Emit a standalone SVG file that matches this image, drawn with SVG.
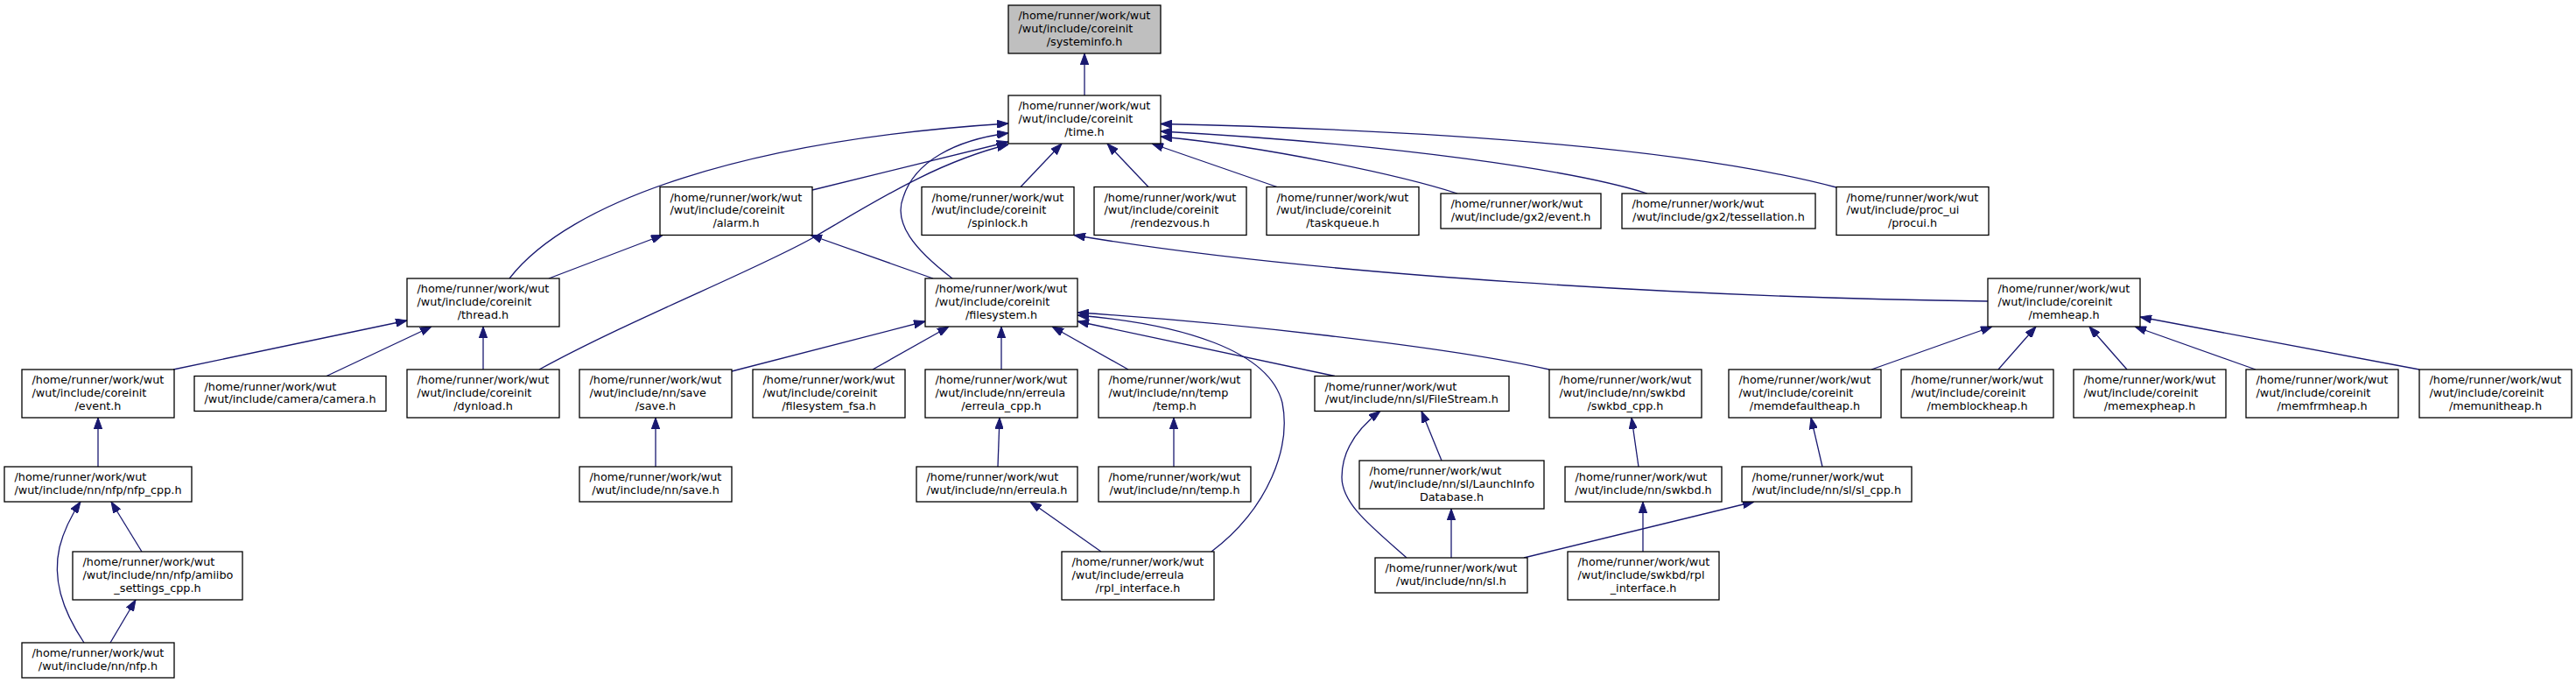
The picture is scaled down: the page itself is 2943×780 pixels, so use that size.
<svg xmlns="http://www.w3.org/2000/svg" width="2943" height="780" viewBox="0 0 2943 780">
<style>
.n rect{fill:#ffffff;stroke:#000000;stroke-width:1.3}
.n.root rect{fill:#bfbfbf}
text{font-family:"DejaVu Sans","Liberation Sans",sans-serif;font-size:12.8px;fill:#000000}
text.c{text-anchor:middle}
.e path{fill:none;stroke:#191970;stroke-width:1.3;marker-end:url(#a)}
</style>
<defs>
<marker id="a" markerUnits="userSpaceOnUse" viewBox="0 0 13 9.4" refX="13" refY="4.7" markerWidth="13" markerHeight="9.4" orient="auto">
<path d="M0,0 L13,4.7 L0,9.4 z" fill="#191970" stroke="#191970" stroke-width="1"/>
</marker>
</defs>
<rect x="0" y="0" width="2943" height="780" fill="#ffffff"/>
<g id="connectors" class="e">
<path d="M1239,109 L1239,61"/>
<path d="M582,318 C650,230 850,160 1152,141"/>
<path d="M928,217 L1152,162"/>
<path d="M616,422 C720,365 860,310 928,272 C1000,230 1070,185 1152,165"/>
<path d="M1088,318 C1045,285 1020,255 1032,225 C1045,185 1090,160 1152,152"/>
<path d="M1166,213.5 L1213,164"/>
<path d="M1312,213.5 L1265,164"/>
<path d="M1459,213.5 L1316,164"/>
<path d="M1665,221 C1600,200 1450,168 1326,156"/>
<path d="M1882,221 C1800,195 1600,165 1326,150"/>
<path d="M2098,214 C1950,175 1700,150 1326,141.5"/>
<path d="M2271,344 C1950,340 1500,315 1227,268.5"/>
<path d="M627,318 L757,268.5"/>
<path d="M1066,318 L926,268.5"/>
<path d="M198,422 L465,366"/>
<path d="M373,429.5 L493,373"/>
<path d="M552,422 L552,373"/>
<path d="M836,424 L1057,367"/>
<path d="M997,422 L1084,373"/>
<path d="M1144,422 L1144,373"/>
<path d="M1289,422 L1202,373"/>
<path d="M1525,429.5 L1231,367"/>
<path d="M1770,422 C1650,395 1400,368 1231,357"/>
<path d="M1384,630 C1450,580 1475,510 1465,460 C1450,400 1350,370 1231,360"/>
<path d="M2138,422 L2276,373"/>
<path d="M2283,422 L2326,373"/>
<path d="M2430,422 L2387,373"/>
<path d="M2577,422 L2439,373"/>
<path d="M2764,422 L2445,362"/>
<path d="M112,533 L112,477"/>
<path d="M96,734 C70,695 60,660 68,625 C73,605 82,588 92,573"/>
<path d="M162,630 L127,573"/>
<path d="M126,734 L155,685"/>
<path d="M749,533 L749,477"/>
<path d="M1140,533 L1142,477"/>
<path d="M1341,533 L1341,477"/>
<path d="M1258,630 L1177,573"/>
<path d="M1607,637 C1565,600 1533,575 1533,545 C1533,515 1550,490 1577,469.5"/>
<path d="M1647,526 L1624,469.5"/>
<path d="M1658,637 L1658,581"/>
<path d="M1741,637 L2004,573"/>
<path d="M2082,533 L2069,477"/>
<path d="M1872,533 L1864,477"/>
<path d="M1877,630 L1877,573"/>
</g>
<g id="n_systeminfo" class="n root"><rect x="1152" y="6" width="174" height="55"/><text x="1163.5" y="22">/home/runner/work/wut</text><text x="1163.5" y="36.8">/wut/include/coreinit</text><text class="c" x="1239" y="51.6">/systeminfo.h</text></g>
<g id="n_time" class="n"><rect x="1152" y="109" width="174" height="55"/><text x="1163.5" y="125">/home/runner/work/wut</text><text x="1163.5" y="139.8">/wut/include/coreinit</text><text class="c" x="1239" y="154.6">/time.h</text></g>
<g id="n_alarm" class="n"><rect x="754" y="213.5" width="174" height="55"/><text x="765.5" y="229.5">/home/runner/work/wut</text><text x="765.5" y="244.3">/wut/include/coreinit</text><text class="c" x="841" y="259.1">/alarm.h</text></g>
<g id="n_spinlock" class="n"><rect x="1053" y="213.5" width="174" height="55"/><text x="1064.5" y="229.5">/home/runner/work/wut</text><text x="1064.5" y="244.3">/wut/include/coreinit</text><text class="c" x="1140" y="259.1">/spinlock.h</text></g>
<g id="n_rendezvous" class="n"><rect x="1250" y="213.5" width="174" height="55"/><text x="1261.5" y="229.5">/home/runner/work/wut</text><text x="1261.5" y="244.3">/wut/include/coreinit</text><text class="c" x="1337" y="259.1">/rendezvous.h</text></g>
<g id="n_taskqueue" class="n"><rect x="1447" y="213.5" width="174" height="55"/><text x="1458.5" y="229.5">/home/runner/work/wut</text><text x="1458.5" y="244.3">/wut/include/coreinit</text><text class="c" x="1534" y="259.1">/taskqueue.h</text></g>
<g id="n_gx2event" class="n"><rect x="1646" y="221" width="183" height="40"/><text x="1657.5" y="237">/home/runner/work/wut</text><text class="c" x="1737.5" y="251.8">/wut/include/gx2/event.h</text></g>
<g id="n_gx2tess" class="n"><rect x="1853" y="221" width="221" height="40"/><text x="1864.5" y="237">/home/runner/work/wut</text><text class="c" x="1963.5" y="251.8">/wut/include/gx2/tessellation.h</text></g>
<g id="n_procui" class="n"><rect x="2098" y="213.5" width="174" height="55"/><text x="2109.5" y="229.5">/home/runner/work/wut</text><text x="2109.5" y="244.3">/wut/include/proc_ui</text><text class="c" x="2185" y="259.1">/procui.h</text></g>
<g id="n_thread" class="n"><rect x="465" y="318" width="174" height="55"/><text x="476.5" y="334">/home/runner/work/wut</text><text x="476.5" y="348.8">/wut/include/coreinit</text><text class="c" x="552" y="363.6">/thread.h</text></g>
<g id="n_filesystem" class="n"><rect x="1057" y="318" width="174" height="55"/><text x="1068.5" y="334">/home/runner/work/wut</text><text x="1068.5" y="348.8">/wut/include/coreinit</text><text class="c" x="1144" y="363.6">/filesystem.h</text></g>
<g id="n_memheap" class="n"><rect x="2271" y="318" width="174" height="55"/><text x="2282.5" y="334">/home/runner/work/wut</text><text x="2282.5" y="348.8">/wut/include/coreinit</text><text class="c" x="2358" y="363.6">/memheap.h</text></g>
<g id="n_event" class="n"><rect x="25" y="422" width="174" height="55"/><text x="36.5" y="438">/home/runner/work/wut</text><text x="36.5" y="452.8">/wut/include/coreinit</text><text class="c" x="112" y="467.6">/event.h</text></g>
<g id="n_camera" class="n"><rect x="222" y="429.5" width="219" height="40"/><text x="233.5" y="445.5">/home/runner/work/wut</text><text class="c" x="331.5" y="460.3">/wut/include/camera/camera.h</text></g>
<g id="n_dynload" class="n"><rect x="465" y="422" width="174" height="55"/><text x="476.5" y="438">/home/runner/work/wut</text><text x="476.5" y="452.8">/wut/include/coreinit</text><text class="c" x="552" y="467.6">/dynload.h</text></g>
<g id="n_savesave" class="n"><rect x="662" y="422" width="174" height="55"/><text x="673.5" y="438">/home/runner/work/wut</text><text x="673.5" y="452.8">/wut/include/nn/save</text><text class="c" x="749" y="467.6">/save.h</text></g>
<g id="n_fsa" class="n"><rect x="860" y="422" width="174" height="55"/><text x="871.5" y="438">/home/runner/work/wut</text><text x="871.5" y="452.8">/wut/include/coreinit</text><text class="c" x="947" y="467.6">/filesystem_fsa.h</text></g>
<g id="n_erreulacpp" class="n"><rect x="1057" y="422" width="174" height="55"/><text x="1068.5" y="438">/home/runner/work/wut</text><text x="1068.5" y="452.8">/wut/include/nn/erreula</text><text class="c" x="1144" y="467.6">/erreula_cpp.h</text></g>
<g id="n_temptemp" class="n"><rect x="1255" y="422" width="174" height="55"/><text x="1266.5" y="438">/home/runner/work/wut</text><text x="1266.5" y="452.8">/wut/include/nn/temp</text><text class="c" x="1342" y="467.6">/temp.h</text></g>
<g id="n_filestream" class="n"><rect x="1502" y="429.5" width="222" height="40"/><text x="1513.5" y="445.5">/home/runner/work/wut</text><text class="c" x="1613" y="460.3">/wut/include/nn/sl/FileStream.h</text></g>
<g id="n_swkbdcpp" class="n"><rect x="1770" y="422" width="174" height="55"/><text x="1781.5" y="438">/home/runner/work/wut</text><text x="1781.5" y="452.8">/wut/include/nn/swkbd</text><text class="c" x="1857" y="467.6">/swkbd_cpp.h</text></g>
<g id="n_memdefault" class="n"><rect x="1975" y="422" width="174" height="55"/><text x="1986.5" y="438">/home/runner/work/wut</text><text x="1986.5" y="452.8">/wut/include/coreinit</text><text class="c" x="2062" y="467.6">/memdefaultheap.h</text></g>
<g id="n_memblock" class="n"><rect x="2172" y="422" width="174" height="55"/><text x="2183.5" y="438">/home/runner/work/wut</text><text x="2183.5" y="452.8">/wut/include/coreinit</text><text class="c" x="2259" y="467.6">/memblockheap.h</text></g>
<g id="n_memexp" class="n"><rect x="2369" y="422" width="174" height="55"/><text x="2380.5" y="438">/home/runner/work/wut</text><text x="2380.5" y="452.8">/wut/include/coreinit</text><text class="c" x="2456" y="467.6">/memexpheap.h</text></g>
<g id="n_memfrm" class="n"><rect x="2566" y="422" width="174" height="55"/><text x="2577.5" y="438">/home/runner/work/wut</text><text x="2577.5" y="452.8">/wut/include/coreinit</text><text class="c" x="2653" y="467.6">/memfrmheap.h</text></g>
<g id="n_memunit" class="n"><rect x="2764" y="422" width="174" height="55"/><text x="2775.5" y="438">/home/runner/work/wut</text><text x="2775.5" y="452.8">/wut/include/coreinit</text><text class="c" x="2851" y="467.6">/memunitheap.h</text></g>
<g id="n_nfpcpp" class="n"><rect x="5" y="533" width="214" height="40"/><text x="16.5" y="549">/home/runner/work/wut</text><text class="c" x="112" y="563.8">/wut/include/nn/nfp/nfp_cpp.h</text></g>
<g id="n_save" class="n"><rect x="662" y="533" width="174" height="40"/><text x="673.5" y="549">/home/runner/work/wut</text><text class="c" x="749" y="563.8">/wut/include/nn/save.h</text></g>
<g id="n_erreula" class="n"><rect x="1047" y="533" width="184" height="40"/><text x="1058.5" y="549">/home/runner/work/wut</text><text class="c" x="1139" y="563.8">/wut/include/nn/erreula.h</text></g>
<g id="n_temp" class="n"><rect x="1255" y="533" width="174" height="40"/><text x="1266.5" y="549">/home/runner/work/wut</text><text class="c" x="1342" y="563.8">/wut/include/nn/temp.h</text></g>
<g id="n_launchinfo" class="n"><rect x="1553" y="526" width="211" height="55"/><text x="1564.5" y="542">/home/runner/work/wut</text><text x="1564.5" y="556.8">/wut/include/nn/sl/LaunchInfo</text><text class="c" x="1658.5" y="571.6">Database.h</text></g>
<g id="n_swkbd" class="n"><rect x="1788" y="533" width="179" height="40"/><text x="1799.5" y="549">/home/runner/work/wut</text><text class="c" x="1877.5" y="563.8">/wut/include/nn/swkbd.h</text></g>
<g id="n_slcpp" class="n"><rect x="1990" y="533" width="194" height="40"/><text x="2001.5" y="549">/home/runner/work/wut</text><text class="c" x="2087" y="563.8">/wut/include/nn/sl/sl_cpp.h</text></g>
<g id="n_amiibo" class="n"><rect x="83" y="630" width="194" height="55"/><text x="94.5" y="646">/home/runner/work/wut</text><text x="94.5" y="660.8">/wut/include/nn/nfp/amiibo</text><text class="c" x="180" y="675.6">_settings_cpp.h</text></g>
<g id="n_rplerreula" class="n"><rect x="1213" y="630" width="174" height="55"/><text x="1224.5" y="646">/home/runner/work/wut</text><text x="1224.5" y="660.8">/wut/include/erreula</text><text class="c" x="1300" y="675.6">/rpl_interface.h</text></g>
<g id="n_sl" class="n"><rect x="1571" y="637" width="174" height="40"/><text x="1582.5" y="653">/home/runner/work/wut</text><text class="c" x="1658" y="667.8">/wut/include/nn/sl.h</text></g>
<g id="n_rplswkbd" class="n"><rect x="1791" y="630" width="173" height="55"/><text x="1802.5" y="646">/home/runner/work/wut</text><text x="1802.5" y="660.8">/wut/include/swkbd/rpl</text><text class="c" x="1877.5" y="675.6">_interface.h</text></g>
<g id="n_nfp" class="n"><rect x="25" y="734" width="174" height="40"/><text x="36.5" y="750">/home/runner/work/wut</text><text class="c" x="112" y="764.8">/wut/include/nn/nfp.h</text></g>
</svg>
